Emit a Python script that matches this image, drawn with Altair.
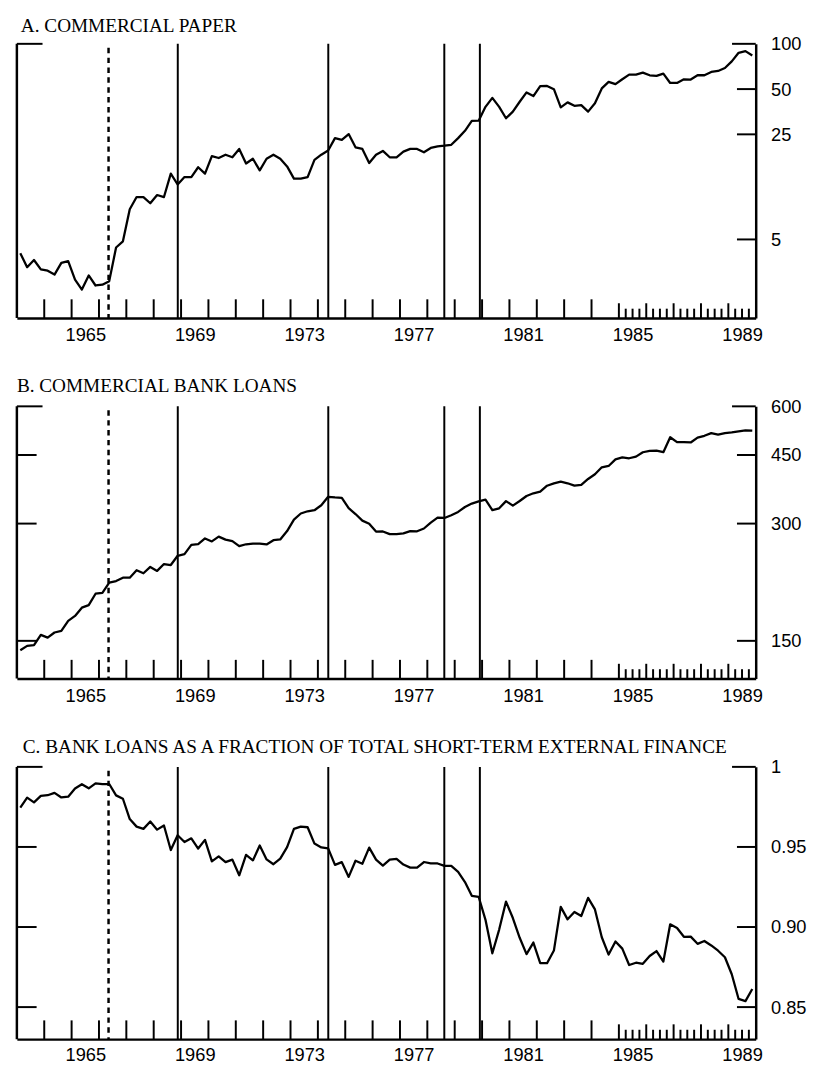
import altair as alt
import pandas as pd

# ---------------- data (quarterly, 1963:Q1 - 1989:Q4) ----------------
quarter_pos = [y + (q - 0.5) / 4 for y in range(1963, 1990) for q in range(1, 5)]

commercial_paper = [
    4.05, 3.27, 3.65, 3.16, 3.10, 2.92, 3.49, 3.59, 2.70, 2.32, 2.88, 2.47,
    2.50, 2.64, 4.42, 4.86, 7.94, 9.57, 9.57, 8.70, 9.87, 9.57, 13.7, 11.6,
    13.0, 13.0, 15.1, 13.7, 17.9, 17.4, 18.3, 17.6, 20.0, 16.0, 17.2, 14.4,
    17.2, 18.3, 17.2, 15.3, 12.7, 12.7, 13.0, 16.9, 18.3, 19.5, 23.6, 23.0,
    25.1, 20.5, 20.0, 16.1, 18.3, 19.4, 17.6, 17.6, 19.2, 20.0, 20.0, 19.0,
    20.3, 20.8, 21.0, 21.3, 23.6, 26.4, 30.7, 30.8, 38.1, 43.7, 38.1, 32.0,
    35.4, 41.2, 47.5, 44.9, 52.3, 52.5, 49.9, 37.8, 40.8, 38.7, 39.1, 35.4,
    40.2, 50.5, 55.8, 53.9, 58.1, 62.4, 62.4, 64.3, 61.8, 61.2, 63.4, 54.9,
    54.9, 58.1, 57.9, 61.8, 61.8, 65.0, 66.0, 69.0, 76.4, 87.2, 89.4, 83.7,
]

bank_loans = [
    141.9, 145.6, 146.2, 155.4, 152.9, 157.6, 159.1, 168.8, 173.8, 182.5, 185.2, 198.2,
    199.3, 211.5, 213.6, 217.9, 217.9, 227.7, 223.7, 232.2, 226.8, 236.2, 234.8, 248.0,
    250.4, 264.6, 265.6, 274.8, 270.0, 277.7, 272.9, 270.4, 262.6, 265.5, 266.6, 266.6,
    265.2, 272.0, 273.1, 287.0, 307.2, 318.4, 322.7, 324.7, 334.4, 351.4, 350.2, 349.5,
    328.6, 317.4, 305.3, 299.8, 286.2, 286.3, 281.9, 281.9, 283.2, 287.0, 286.7, 291.4,
    301.8, 310.9, 310.1, 315.3, 321.4, 330.9, 337.7, 342.2, 345.8, 325.0, 328.4, 342.6,
    333.6, 342.8, 353.2, 358.8, 362.2, 375.3, 380.5, 384.3, 380.7, 375.4, 377.2, 390.6,
    401.6, 418.4, 421.8, 438.6, 443.8, 441.4, 445.6, 457.4, 460.9, 461.9, 457.6, 499.7,
    485.4, 485.4, 484.6, 498.8, 504.1, 512.1, 507.4, 512.4, 514.2, 517.5, 520.5, 519.9,
]

bank_share = [
    0.9746, 0.9808, 0.9778, 0.9819, 0.9823, 0.9838, 0.9809, 0.9814, 0.9865, 0.9892, 0.9866, 0.9897,
    0.9893, 0.9893, 0.9822, 0.9801, 0.9674, 0.9627, 0.9613, 0.9659, 0.9608, 0.9634, 0.9481, 0.9573,
    0.9531, 0.9554, 0.9490, 0.9544, 0.9410, 0.9441, 0.9405, 0.9421, 0.9323, 0.9451, 0.9416, 0.9509,
    0.9422, 0.9392, 0.9427, 0.9499, 0.9613, 0.9627, 0.9623, 0.9521, 0.9497, 0.9491, 0.9388, 0.9405,
    0.9313, 0.9414, 0.9395, 0.9496, 0.9421, 0.9384, 0.9421, 0.9425, 0.9390, 0.9371, 0.9371, 0.9406,
    0.9398, 0.9397, 0.9382, 0.9382, 0.9345, 0.9281, 0.9195, 0.9189, 0.9045, 0.8836, 0.8984, 0.9159,
    0.9056, 0.8933, 0.8831, 0.8903, 0.8774, 0.8774, 0.8853, 0.9126, 0.9048, 0.9094, 0.9069, 0.9182,
    0.9110, 0.8936, 0.8828, 0.8910, 0.8865, 0.8763, 0.8777, 0.8770, 0.8819, 0.8850, 0.8784, 0.9017,
    0.8994, 0.8939, 0.8940, 0.8895, 0.8913, 0.8885, 0.8852, 0.8811, 0.8705, 0.8551, 0.8537, 0.8613,
]

# monetary-policy dates (solid) and 1966 credit crunch (dashed)
policy_dates = [1968.88, 1974.38, 1978.62, 1979.92]
crunch_dates = [1966.35]

# x-axis labels (centred in year) and tick marks
label_years = [1965, 1969, 1973, 1977, 1981, 1985, 1989]
annual_ticks = list(range(1964, 1985))
dense_year_ticks = [1985, 1986, 1987, 1988, 1989]
quarter_ticks = [y + q / 4 for y in range(1985, 1990) for q in (1, 2, 3)]

titles = [
    "A. COMMERCIAL PAPER",
    "B. COMMERCIAL BANK LOANS",
    "C. BANK LOANS AS A FRACTION OF TOTAL SHORT-TERM EXTERNAL FINANCE",
]
ticks_a, top_a = [50, 25, 5], 100
ticks_b, top_b = [450, 300, 150], 600
ticks_c, top_c = [0.95, 0.90, 0.85], 1.0

W = 749
LABEL_FONT = "Liberation Sans"
TITLE_FONT = "Liberation Serif"


def panel(title, title_x, title_y, values, H, yscale, rticks, rtop, lticks,
          label_expr, xlabel_pad):
    xscale = alt.Scale(domain=[1963, 1990], nice=False, zero=False)
    xaxis = alt.Axis(
        values=[y + 0.5 for y in label_years],
        labelExpr="'' + floor(datum.value)",
        ticks=False, tickSize=0, grid=False, title=None,
        domainWidth=2.5, domainColor="black",
        labelFont=LABEL_FONT, labelFontSize=18.5, labelColor="black",
        labelPadding=xlabel_pad, labelFlush=False, labelOverlap=False,
    )
    yaxis = alt.Axis(
        orient="right", values=rticks + [rtop], labelExpr=label_expr,
        ticks=False, tickSize=0, grid=False, title=None,
        domainWidth=2.5, domainColor="black",
        labelFont=LABEL_FONT, labelFontSize=18.5, labelColor="black",
        labelPadding=15, labelFlush=False, labelOverlap=False,
    )

    def X(f):
        return alt.X(f, type="quantitative", scale=xscale, axis=xaxis)

    def Y(f):
        return alt.Y(f, type="quantitative", scale=yscale, axis=yaxis)

    df = pd.DataFrame({"date": quarter_pos, "value": values})
    line = alt.Chart(df).mark_line(color="black", strokeWidth=2.3, strokeJoin="round").encode(
        x=X("date"), y=Y("value"))

    solid = alt.Chart(pd.DataFrame({"date": policy_dates})).mark_rule(
        color="black", strokeWidth=2).encode(x=X("date"), y=alt.value(0), y2=alt.value(H))
    dashed = alt.Chart(pd.DataFrame({"date": crunch_dates})).mark_rule(
        color="black", strokeWidth=2.5, strokeDash=[5.5, 4.5]).encode(
        x=X("date"), y=alt.value(4), y2=alt.value(H))

    def bottom_ticks(vals, length):
        return alt.Chart(pd.DataFrame({"pos": vals})).mark_rule(
            color="black", strokeWidth=2).encode(
            x=X("pos"), y=alt.value(H), y2=alt.value(H - length))

    def right_ticks(vals, length):
        return alt.Chart(pd.DataFrame({"tick": vals})).mark_rule(
            color="black", strokeWidth=2).encode(
            y=Y("tick"), x=alt.value(W - length), x2=alt.value(W))

    def left_ticks(vals, length):
        return alt.Chart(pd.DataFrame({"tick": vals})).mark_rule(
            color="black", strokeWidth=2).encode(
            y=Y("tick"), x=alt.value(0), x2=alt.value(length))

    frame = alt.Chart(pd.DataFrame({"side": ["left"]})).mark_rule(
        color="black", strokeWidth=2.5).encode(
        x=alt.value(0), y=alt.value(0), y2=alt.value(H))

    ttl = alt.Chart(pd.DataFrame({"label": [title]})).mark_text(
        font=TITLE_FONT, fontSize=19.5, align="left", baseline="top",
        color="black").encode(text="label:N", x=alt.value(title_x), y=alt.value(title_y))

    layers = [line, solid, dashed,
              bottom_ticks(annual_ticks, 19), bottom_ticks(dense_year_ticks, 15),
              bottom_ticks(quarter_ticks, 9.5),
              right_ticks(rticks, 19), right_ticks([rtop], 24),
              left_ticks([rtop], 26), frame, ttl]
    if lticks:
        layers.append(left_ticks(lticks, 20))
    return alt.layer(*layers).properties(width=W, height=H)


pa = panel(titles[0], 4, -27.5, commercial_paper, 278,
           alt.Scale(type="log", domain=[1.5, 100], nice=False),
           ticks_a, top_a, [], "'' + datum.value", 8)
pb = panel(titles[1], 0, -30, bank_loans, 276,
           alt.Scale(type="log", domain=[120, 600], nice=False),
           ticks_b, top_b, ticks_b, "'' + datum.value", 8)
pc = panel(titles[2], 6, -29.5, bank_share, 276,
           alt.Scale(domain=[0.83, 1.0], nice=False, zero=False),
           ticks_c, top_c, ticks_c,
           "datum.value == 1 ? '1' : format(datum.value, '.2f')", 7)

chart = alt.vconcat(pa, pb, pc, spacing=89.5, bounds="flush").configure_view(
    stroke=None).properties(
    padding={"left": 7, "top": 0, "right": 0, "bottom": 0}, background="white")

chart.save("out.html", embed_options={"renderer": "svg", "actions": False})
